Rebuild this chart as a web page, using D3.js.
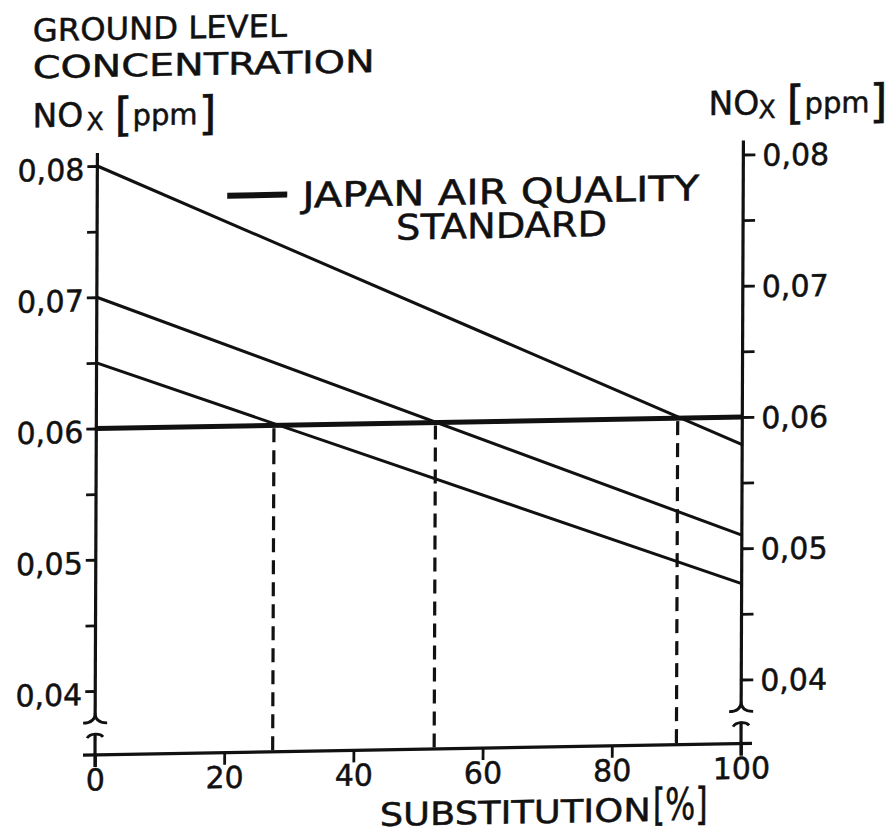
<!DOCTYPE html>
<html><head><meta charset="utf-8">
<script src="https://cdn.jsdelivr.net/npm/d3@7"></script>
<style>
body{margin:0;background:#fff}
svg{display:block}
text{font-family:"DejaVu Sans",sans-serif;fill:#111;stroke:#111;stroke-width:0.5px}
</style>
</head><body>
<svg id="c" width="892" height="834"></svg>
<script>
// ---- data ----
const substitution = [0, 100];
const seriesHigh = [0.080, 0.0579];
const seriesMid = [0.070, 0.0510];
const seriesLow = [0.065, 0.0473];
const standard = [0.060, 0.060];
const crossings = [27.5, 52.5, 90];
const xTicks = [0, 20, 40, 60, 80, 100];
const yMajor = [0.04, 0.05, 0.06, 0.07, 0.08];
const yMinor = [0.045, 0.055, 0.065, 0.075];

const ink = "#111";
const svg = d3.select("#c");
svg.append("rect").attr("width", 892).attr("height", 834).attr("fill", "#fff");
// slight skew of the scanned original
const g = svg.append("g").attr("transform", "matrix(1,-0.0178,-0.004,1,3.02,1.69)");

const x = d3.scaleLinear().domain([0, 100]).range([95, 741]);
const y = d3.scaleLinear().domain([0.04, 0.08]).range([691, 166]);
const baseY = 755;
const fmt = d => d3.format(".2f")(d).replace(".", ",");

function styleAxis(sel, dy) {
  sel.selectAll(".domain").remove();
  sel.selectAll(".tick line").attr("stroke", ink).attr("stroke-width", 2.8);
  sel.selectAll(".tick text").attr("font-size", 30).attr("fill", ink)
     .attr("font-family", "DejaVu Sans");
  if (dy) sel.selectAll(".tick text").attr("dy", dy);
}

// left axis
const left = g.append("g").attr("transform", `translate(${x(0)},0)`);
left.call(d3.axisLeft(y).tickValues(yMajor).tickSize(10).tickPadding(3).tickFormat(fmt));
styleAxis(left, "0.45em");
const leftMinor = g.append("g").attr("transform", `translate(${x(0)},0)`);
leftMinor.call(d3.axisLeft(y).tickValues(yMinor).tickSize(10).tickFormat(""));
styleAxis(leftMinor);

// right axis
const right = g.append("g").attr("transform", `translate(${x(100)},0)`);
right.call(d3.axisRight(y).tickValues(yMajor).tickSize(12).tickPadding(7).tickFormat(fmt));
styleAxis(right, "0.37em");
const rightMinor = g.append("g").attr("transform", `translate(${x(100)},0)`);
rightMinor.call(d3.axisRight(y).tickValues(yMinor).tickSize(12).tickFormat(""));
styleAxis(rightMinor);

// bottom axis
const bottom = g.append("g").attr("transform", `translate(0,${baseY})`);
bottom.call(d3.axisBottom(x).tickValues(xTicks).tickSize(12).tickPadding(2).tickFormat(d3.format("d")));
styleAxis(bottom);

// axis lines with breaks
const axisLines = [
  [x(0) - 12, baseY, x(100) + 11, baseY],
  [x(0), 153, x(0), 714],
  [x(0), 733, x(0), 767],
  [x(100), 152, x(100), 714],
  [x(100), 733, x(100), 767]
];
g.selectAll("line.ax").data(axisLines).join("line").attr("class", "ax")
  .attr("x1", d => d[0]).attr("y1", d => d[1]).attr("x2", d => d[2]).attr("y2", d => d[3])
  .attr("stroke", ink).attr("stroke-width", 3.2);
[x(0), x(100)].forEach(ax => {
  g.append("path")
    .attr("d", `M${ax - 12},723 C${ax - 4},723 ${ax},720 ${ax},713 C${ax},720 ${ax + 4},723 ${ax + 12},723`)
    .attr("fill", "none").attr("stroke", ink).attr("stroke-width", 2.8);
  g.append("path")
    .attr("d", `M${ax - 8},738 C${ax - 5},733 ${ax + 5},733 ${ax + 8},737`)
    .attr("fill", "none").attr("stroke", ink).attr("stroke-width", 2.8);
});

// data lines
const line = d3.line().x((d, i) => x(substitution[i])).y(d => y(d));
[seriesHigh, seriesMid, seriesLow].forEach(s => {
  g.append("path").attr("d", line(s)).attr("fill", "none")
    .attr("stroke", ink).attr("stroke-width", 3);
});
g.append("path").attr("d", line(standard)).attr("fill", "none")
  .attr("stroke", ink).attr("stroke-width", 5);

// dashed drop lines
g.selectAll("line.drop").data(crossings).join("line").attr("class", "drop")
  .attr("x1", d => x(d)).attr("x2", d => x(d))
  .attr("y1", y(0.06) + 3).attr("y2", baseY)
  .attr("stroke", ink).attr("stroke-width", 3.2).attr("stroke-dasharray", "14,8");

// legend
g.append("line").attr("x1", 225).attr("x2", 285).attr("y1", 198).attr("y2", 198)
  .attr("stroke", ink).attr("stroke-width", 6);
const leg = g.append("text").attr("font-size", 35);
leg.append("tspan").attr("x", 300).attr("y", 211)
  .attr("textLength", 397).attr("lengthAdjust", "spacingAndGlyphs").text("JAPAN  AIR QUALITY");
leg.append("tspan").attr("x", 394).attr("y", 245)
  .attr("textLength", 211).attr("lengthAdjust", "spacingAndGlyphs").text("STANDARD");

// titles
g.append("text").attr("x", 30).attr("y", 40).attr("font-size", 31)
  .attr("textLength", 254).attr("lengthAdjust", "spacingAndGlyphs").text("GROUND LEVEL");
g.append("text").attr("x", 30).attr("y", 77).attr("font-size", 31)
  .attr("textLength", 342).attr("lengthAdjust", "spacingAndGlyphs").text("CONCENTRATION");

function noxLabel(x0, xX, xB1, xP, xB2) {
  const t = g.append("text");
  t.append("tspan").attr("x", x0).attr("y", 126).attr("font-size", 33).text("NO");
  t.append("tspan").attr("x", xX).attr("y", 130).attr("font-size", 25).text("X");
  t.append("tspan").attr("x", xB1).attr("y", 131).attr("font-size", 46).text("[");
  t.append("tspan").attr("x", xP).attr("y", 126).attr("font-size", 29).text("ppm");
  t.append("tspan").attr("x", xB2).attr("y", 131).attr("font-size", 46).text("]");
}
noxLabel(30, 84, 112, 130, 196);
noxLabel(706, 756, 784, 802, 867);

// x axis title
g.append("text").attr("x", 380).attr("y", 831).attr("font-size", 32)
  .attr("textLength", 271).attr("lengthAdjust", "spacingAndGlyphs").text("SUBSTITUTION");
g.append("text").attr("x", 653).attr("y", 830).attr("font-size", 44)
  .attr("textLength", 55).attr("lengthAdjust", "spacingAndGlyphs").text("[%]");
</script>
</body></html>
